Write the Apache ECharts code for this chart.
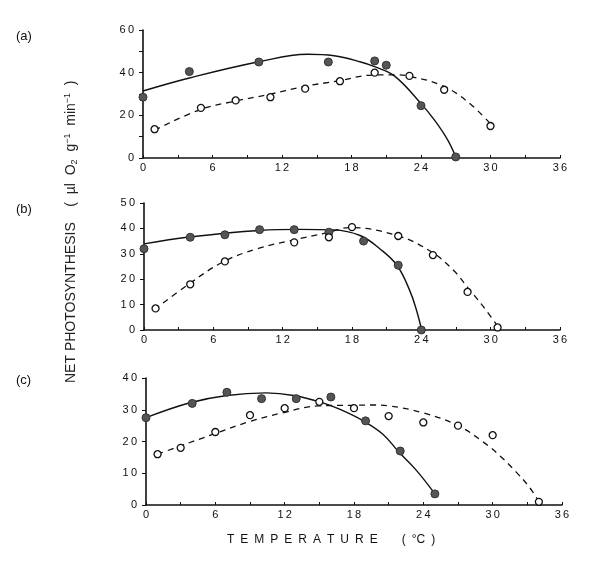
<!DOCTYPE html>
<html><head><meta charset="utf-8">
<script src="https://cdn.jsdelivr.net/npm/echarts@6/dist/echarts.min.js"></script>
<style>html,body{margin:0;padding:0;background:#fff}#c{width:615px;height:563px}</style>
</head><body><div id="c"></div>
<script>
// ---- data (temperature °C, net photosynthesis µl O2 g-1 min-1) ----
const panelLabels = ['(a)', '(b)', '(c)'];
const xMax = 36, xTickStep = 3, xLabelStep = 6;
const yMaxes = [60, 50, 40];
const yLabelSteps = [20, 10, 10];

// panel (a)
const filledA = [[0,28.5],[4,40.5],[10,45],[16,45],[20,45.5],[21,43.5],[24,24.5],[27,0.5]];
const openA   = [[1,13.5],[5,23.5],[8,27],[11,28.5],[14,32.5],[17,36],[20,40],[23,38.5],[26,32],[30,15]];
const solidA  = [[0,31.4],[4,37.5],[10,45.1],[14.2,48.6],[16.5,47.9],[18.8,45],[20,42.8],[21.7,38.5],[24,25.5],[25.2,17.5],[26.3,8.5],[27,0.5]];
const dashA   = [[1,13],[4.9,22.6],[7.8,26.5],[10.7,29.6],[13.9,33.5],[16.8,36.1],[19.9,38.9],[21.7,39],[23,38.3],[25.8,34],[28,26.5],[30,16]];

// panel (b)
const filledB = [[0,32],[4,36.5],[7,37.5],[10,39.5],[13,39.5],[16,38.5],[19,35],[22,25.5],[24,0]];
const openB   = [[1,8.5],[4,18],[7,27],[13,34.5],[16,36.5],[18,40.5],[22,37],[25,29.5],[28,15],[30.6,1]];
const solidB  = [[0,33.9],[3.9,36.6],[10,39.2],[13.5,39.6],[16.4,39.4],[18.7,37.2],[20.4,32],[21.9,25.4],[23,15.5],[23.6,7.5],[24,0.5]];
const dashB   = [[0.9,8],[3.8,17.8],[6.8,26.7],[9.8,32],[12.8,35.3],[15.8,38.2],[17.8,40.3],[21.9,37.2],[24.9,30.7],[26.8,23.4],[28,16.8],[29.4,9],[30.6,1.5]];

// panel (c)
const filledC = [[0,27.5],[4,32],[7,35.5],[10,33.5],[13,33.5],[16,34],[19,26.5],[22,17],[25,3.5]];
const openC   = [[1,16],[3,18],[6,23],[9,28.3],[12,30.5],[15,32.5],[18,30.5],[21,28],[24,26],[27,25],[30,22],[34,1]];
const solidC  = [[0,27.5],[3.8,32.2],[7,34.5],[10.4,35.3],[12.8,34.5],[15.1,32.4],[16.8,30.1],[18.8,26.5],[20.5,22.3],[21.9,16.6],[23.4,10.9],[25,3.5]];
const dashC   = [[1,16],[2.9,18.5],[5.9,22.4],[8.9,26.2],[11.9,29.1],[14.9,31.2],[17.9,31.4],[19.4,31.5],[21,31.2],[23.9,29.1],[27,25],[29.2,19.8],[30.6,15.6],[32,10.5],[33.2,5.5],[34,1]];

const filled = [filledA, filledB, filledC];
const open = [openA, openB, openC];
const solid = [solidA, solidB, solidC];
const dashed = [dashA, dashB, dashC];

// ---- layout ----
const grids = [
  {left:143, top:30, width:417, height:128},
  {left:144, top:203, width:416, height:127},
  {left:146, top:378, width:416, height:127}
];
const font = 'Liberation Sans, Arial, sans-serif';
const spaced = s => String(s).split('').join('\u2009');

const xAxes = grids.map((g,i) => ({
  type:'value', gridIndex:i, min:0, max:xMax, interval:xTickStep,
  axisLine:{show:true, onZero:false, lineStyle:{color:'#111', width:1.6}},
  axisTick:{show:true, inside:true, length:3, lineStyle:{color:'#111', width:1}},
  splitLine:{show:false},
  axisLabel:{color:'#111', fontFamily:font, fontSize:11, margin:4,
    formatter:v => (v % xLabelStep === 0 ? spaced(v) : '')}
}));
const yAxes = grids.map((g,i) => ({
  type:'value', gridIndex:i, min:0, max:yMaxes[i], interval:10,
  axisLine:{show:true, onZero:false, lineStyle:{color:'#111', width:1.6}},
  axisTick:{show:true, inside:false, length:4, lineStyle:{color:'#111', width:1}},
  splitLine:{show:false},
  axisLabel:{color:'#111', fontFamily:font, fontSize:11, margin:9,
    formatter:v => (v % yLabelSteps[i] === 0 ? spaced(v) : '')}
}));

const series = [];
for (let i = 0; i < 3; i++) {
  series.push({type:'line', xAxisIndex:i, yAxisIndex:i, data:solid[i], smooth:0.4, showSymbol:false, symbol:'none',
    lineStyle:{color:'#111', width:1.4}, silent:true, z:2});
  series.push({type:'line', xAxisIndex:i, yAxisIndex:i, data:dashed[i], smooth:0.4, showSymbol:false, symbol:'none',
    lineStyle:{color:'#111', width:1.3, type:[6,5]}, silent:true, z:2});
  series.push({type:'scatter', xAxisIndex:i, yAxisIndex:i, data:filled[i], symbol:'circle', symbolSize:8,
    itemStyle:{color:'#555', borderColor:'#333', borderWidth:1, opacity:1}, z:4});
  series.push({type:'scatter', xAxisIndex:i, yAxisIndex:i, data:open[i], symbol:'circle', symbolSize:7,
    itemStyle:{color:'#fff', borderColor:'#111', borderWidth:1.3, opacity:1}, z:5});
}

const panelTops = [37, 210, 381];
const graphics = panelLabels.map((t,i) => ({
  type:'text', left:16, top:panelTops[i]-7,
  style:{text:t, font:'13px ' + font, fill:'#111'}
}));
graphics.push({
  type:'text', x:63, y:383, rotation:Math.PI/2,
  style:{
    text:'NET PHOTOSYNTHESIS    (  µl  O{sub|2}  g{sup|−1}  min{sup|−1}  )',
    font:'14px ' + font, fill:'#222',
    rich:{sub:{fontSize:9, padding:[7,0,0,0], fontFamily:font}, sup:{fontSize:9, padding:[0,0,7,0], fontFamily:font}}
  }
});
graphics.push({
  type:'text', left:227, top:534,
  style:{text:'T\u2002E\u2002M\u2002P\u2002E\u2002R\u2002A\u2002T\u2002U\u2002R\u2002E\u2003\u2003(\u2002°C\u2002)', font:'12px ' + font, fill:'#111'}
});

const chart = echarts.init(document.getElementById('c'), null, {renderer:'canvas'});
chart.setOption({
  backgroundColor:'#fff',
  animation:false,
  grid:grids.map(g => Object.assign({containLabel:false}, g)),
  xAxis:xAxes, yAxis:yAxes, series, graphic:graphics
});
</script></body></html>
